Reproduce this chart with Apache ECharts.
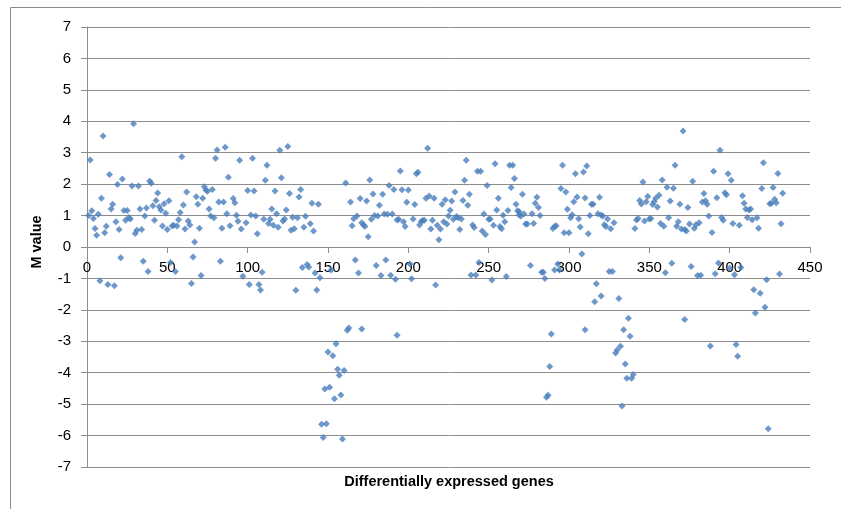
<!DOCTYPE html>
<html>
<head>
<meta charset="utf-8">
<script src="https://cdn.jsdelivr.net/npm/echarts@6/dist/echarts.min.js"></script>
<style>
html, body { margin: 0; padding: 0; background: #fff; }
#chart { width: 841px; height: 509px; }
</style>
</head>
<body>
<div id="chart"></div>
<script>
// gene index (x) and M value (y)
var geneIndex = [
  1, 2, 3, 4, 5, 6, 7, 8, 9, 10, 11, 12, 13, 14, 15, 16, 17, 18, 19, 20,
  21, 22, 23, 24, 25, 26, 27, 28, 29, 30, 31, 32, 33, 34, 35, 36, 37, 38, 39, 40,
  41, 42, 43, 44, 45, 46, 47, 48, 49, 50, 51, 52, 53, 54, 55, 56, 57, 58, 59, 60,
  61, 62, 63, 64, 65, 66, 67, 68, 69, 70, 71, 72, 73, 74, 75, 76, 77, 78, 79, 80,
  81, 82, 83, 84, 85, 86, 87, 88, 89, 91, 92, 93, 94, 95, 96, 97, 99, 100,
  101, 102, 103, 104, 105, 106, 107, 108, 109, 110, 111, 112, 113, 114, 115, 116, 117, 118, 119, 120,
  121, 122, 123, 124, 125, 126, 127, 128, 129, 130, 131, 132, 133, 134, 135, 136, 137, 138, 139, 140,
  141, 142, 143, 144, 145, 146, 147, 148, 149, 150, 151, 152, 153, 154, 155, 156, 157, 158, 159, 160,
  161, 162, 163, 164, 165, 166, 167, 168, 169, 170, 171, 171, 172, 173, 174, 175, 176, 177, 178, 179,
  180, 181, 182, 183, 184, 185, 186, 187, 188, 189, 190, 191, 192, 193, 193, 194, 195, 196, 197, 198,
  199, 200, 201, 202, 203, 204, 205, 206, 207, 208, 209, 210, 211, 212, 213, 214, 215, 216, 217, 218,
  219, 220, 221, 222, 223, 224, 225, 226, 227, 228, 229, 230, 231, 232, 233, 234, 235, 236, 237, 238,
  239, 240, 241, 242, 243, 244, 245, 246, 247, 248, 249, 250, 251, 252, 253, 254, 255, 256, 257, 258,
  259, 260, 261, 262, 263, 264, 265, 266, 267, 268, 269, 269, 270, 271, 272, 273, 274, 276, 277, 278,
  279, 280, 281, 282, 283, 284, 285, 286, 287, 288, 289, 290, 291, 291, 292, 293, 294, 295, 296, 297,
  298, 299, 300, 301, 302, 303, 304, 305, 306, 307, 308, 309, 310, 310, 311, 312, 313, 314, 315, 316,
  317, 318, 319, 320, 320, 321, 322, 323, 324, 325, 326, 327, 328, 329, 330, 331, 332, 333, 334, 335,
  336, 337, 338, 339, 340, 341, 342, 343, 344, 345, 346, 347, 348, 349, 350, 351, 352, 353, 354, 355,
  356, 357, 358, 359, 360, 361, 362, 363, 364, 365, 366, 367, 368, 369, 370, 371, 372, 372, 373, 374,
  375, 376, 377, 378, 379, 380, 381, 382, 383, 384, 385, 386, 387, 388, 389, 390, 391, 392, 393, 394,
  395, 396, 397, 398, 399, 400, 401, 402, 403, 404, 405, 406, 407, 408, 409, 410, 411, 412, 413, 414,
  415, 416, 417, 418, 419, 420, 421, 422, 423, 424, 425, 426, 427, 428, 429, 430, 431, 432, 433
];
var mValue = [
  1.00, 2.77, 1.15, 0.91, 0.59, 0.37, 1.04, -1.07, 1.55, 3.53, 0.45, 0.66, -1.19, 2.31, 1.21, 1.36, -1.23, 0.80, 1.99, 0.56,
  -0.34, 2.16, 1.16, 0.85, 1.16, 0.94, 0.89, 1.94, 3.92, 0.43, 0.53, 1.94, 1.21, 0.56, -0.45, 0.99, 1.24, -0.78, 2.10, 2.03,
  1.31, 0.85, 1.48, 1.72, 1.28, 1.18, 0.67, 1.38, 1.07, 0.56, 1.47, -0.49, 0.67, 0.69, -0.78, 0.67, 0.87, 1.10, 2.87, 1.34,
  0.57, 1.75, 0.83, 0.70, -1.16, -0.32, 0.16, 1.60, 1.36, 0.60, -0.91, 1.55, 1.92, 1.81, 1.77, 1.21, 0.99, 1.83, 0.93, 2.82,
  3.09, 1.43, -0.45, 0.60, 1.43, 3.17, 1.06, 2.22, 0.68, 1.54, 1.41, 1.01, 0.82, 2.76, 0.57, -0.93, 0.77, 1.80,
  -1.19, 1.02, 2.82, 1.78, 0.99, 0.42, -1.19, -1.37, -0.80, 0.88, 2.12, 2.60, 0.75, 0.88, 1.21, 0.69, 1.78, 1.06, 0.63, 3.08,
  2.20, 0.83, 0.89, 1.18, 3.20, 1.70, 0.53, 0.95, 0.58, -1.38, 0.93, 1.59, 1.83, -0.65, 0.63, 0.98, -0.56, -0.64, 0.74, 1.39,
  0.51, -0.83, -1.37, 1.36, -0.98, -5.64, -6.06, -4.52, -5.62, -3.34, -4.46, -0.73, -3.46, -4.83, -3.08, -3.89, -4.08, -4.71, -6.11, -3.93,
  2.04, -2.65, -2.58, 1.43, 0.68, 0.90, -0.41, 0.99, -0.83, 1.54, -2.61, 0.77, 0.71, 0.65, 1.46, 0.33, 2.13, 0.88, 1.69, 1.00,
  -0.59, 0.99, 1.33, -0.91, 1.68, 1.05, -0.41, 1.04, 1.96, -0.90, 1.05, 1.83, -1.03, 0.86, -2.81, 0.88, 2.42, 1.82, 0.80, 0.65,
  1.42, 1.81, -0.54, -1.01, 0.89, 1.35, 2.33, 2.38, 0.70, 0.81, 0.84, 0.85, 1.55, 3.14, 1.62, 0.57, 0.85, 1.55, -1.21, 0.69,
  0.23, 0.57, 1.36, 0.80, 1.50, 0.73, 0.99, 1.17, 1.46, 0.88, 1.75, 0.97, 0.93, 0.56, 0.89, 1.48, 2.12, 2.76, 1.33, 1.68,
  -0.89, 0.70, 0.62, -0.89, 2.41, -0.49, 2.41, 0.51, 1.05, 0.40, 1.96, 0.88, 0.89, -1.05, 0.69, 2.65, 1.18, 1.55, 0.65, 0.58,
  1.01, 0.80, -0.94, 1.16, 2.60, 1.89, 2.60, 2.18, 1.36, 1.15, 1.02, 1.12, 0.99, 1.68, 1.05, 0.73, 0.73, -0.59, 1.06, 0.75,
  1.39, 1.58, 1.26, 1.00, -0.80, -0.80, -1.00, -4.78, -4.72, -3.80, -2.77, 0.59, 0.65, -0.73, 0.68, -0.54, -0.73, 1.86, 2.60, 0.45,
  1.75, 1.20, 0.45, 0.93, 1.03, 1.44, 2.33, 1.59, 0.90, 0.64, -0.22, 2.39, 1.56, -2.63, 2.58, 0.42, 1.00, 1.36, 1.36, -1.74,
  -1.17, 1.06, 1.58, -1.56, 1.02, 0.99, 0.71, 0.65, 0.89, -0.78, 0.58, -0.78, 0.77, -3.37, -3.28, -1.64, -3.16, -5.06, -2.63, -3.72,
  -4.18, -2.27, -2.84, -4.18, -4.06, 0.59, 0.86, 0.91, 1.48, 1.37, 2.07, 0.83, 1.44, 1.61, 0.89, 0.91, 1.35, 1.44, 1.55, 1.27,
  1.65, 0.75, 2.13, 0.66, -0.82, 1.90, 0.93, 1.46, -0.52, 1.87, 2.60, 0.66, 0.80, 1.36, 0.57, 3.69, 0.56, -2.31, 0.51, 1.26,
  0.73, -0.62, 2.09, 0.60, 0.71, -0.91, 0.77, -0.90, 1.43, 1.70, 1.47, 1.36, 0.99, -3.15, 0.46, 2.41, -0.85, 1.57, -0.51, 3.08,
  0.94, 0.85, 1.73, 1.66, 2.33, -0.68, 2.12, 0.75, -0.88, -3.10, -3.48, 0.69, -0.65, 1.63, 1.39, 1.21, 0.94, 1.18, 1.21, 0.87,
  -1.36, -2.10, 0.93, 0.60, -1.47, 1.86, 2.68, -1.92, -1.04, -5.78, 1.38, 1.39, 1.89, 1.52, 1.41, 2.34, -0.86, 0.74, 1.71
];

var xTitle = 'Differentially expressed genes';
var yTitle = 'M value';

var points = geneIndex.map(function (x, i) { return [x, mValue[i]]; });

var gray = '#8c8c8c';
var font = 'Liberation Sans';

var chart = echarts.init(document.getElementById('chart'));
chart.setOption({
  animation: false,
  backgroundColor: '#fff',
  grid: { left: 87, right: 31, top: 27, bottom: 42 },
  xAxis: {
    type: 'value',
    min: 0,
    max: 450,
    interval: 50,
    // x axis sits on the y = 0 line (half of the 440px plot height above the bottom)
    offset: -220,
    axisLine: { onZero: false, lineStyle: { color: gray } },
    axisTick: { show: true, length: 6, lineStyle: { color: gray } },
    axisLabel: { margin: 13, fontSize: 15, color: '#000', fontFamily: font },
    splitLine: { show: false }
  },
  yAxis: {
    type: 'value',
    min: -7,
    max: 7,
    interval: 1,
    axisLine: { show: true, lineStyle: { color: gray } },
    axisTick: { show: true, length: 6, lineStyle: { color: gray } },
    axisLabel: { margin: 16, fontSize: 15, color: '#000', fontFamily: font },
    splitLine: { show: true, lineStyle: { color: gray, width: 1 } }
  },
  graphic: [
    {
      type: 'rect',
      silent: true,
      shape: { x: 10.5, y: 7.5, width: 900, height: 600 },
      style: { fill: 'none', stroke: gray, lineWidth: 1 }
    },
    {
      type: 'text',
      x: 449, y: 482,
      style: {
        text: xTitle, fill: '#000', fontSize: 14.5, fontWeight: 'bold',
        fontFamily: font, textAlign: 'center', textVerticalAlign: 'middle'
      }
    },
    {
      type: 'text',
      x: 37, y: 242,
      rotation: Math.PI / 2,
      style: {
        text: yTitle, fill: '#000', fontSize: 14.5, fontWeight: 'bold',
        fontFamily: font, textAlign: 'center', textVerticalAlign: 'middle'
      }
    }
  ],
  series: [{
    type: 'scatter',
    symbol: 'diamond',
    symbolSize: 7,
    itemStyle: { color: '#4A7EBB' },
    data: points
  }]
});
</script>
</body>
</html>
